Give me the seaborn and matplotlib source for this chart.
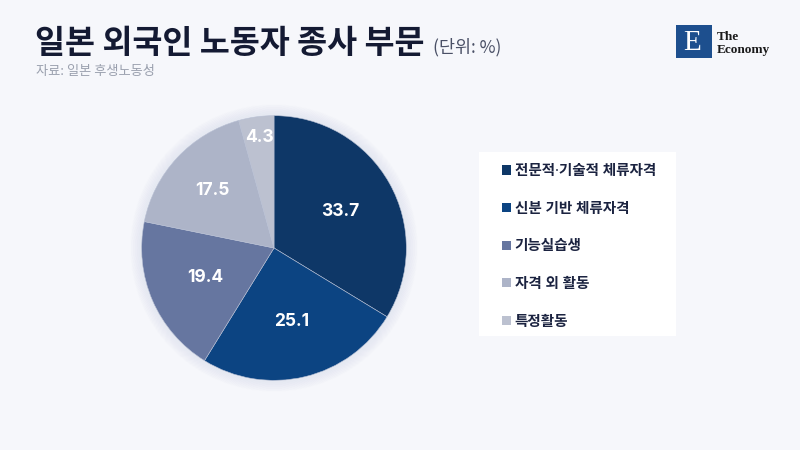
import matplotlib
matplotlib.use('Agg')
import matplotlib.pyplot as plt
import seaborn as sns
from matplotlib.patches import Patch, Rectangle, Circle

# data
labels = ['전문적·기술적 체류자격', '신분 기반 체류자격', '기능실습생', '자격 외 활동', '특정활동']
values = [33.7, 25.1, 19.4, 17.5, 4.3]
colors = ['#0e3767', '#0c4482', '#6676a0', '#adb4c8', '#bcc1d0']

sns.set_theme(style='white')
plt.rcParams['font.family'] = ['Noto Sans CJK KR', 'DejaVu Sans']

bg = '#f6f7fb'
fig = plt.figure(figsize=(8, 4.5), dpi=100, facecolor=bg)

# title block
fig.text(35 / 800, 1 - 53 / 450, '일본 외국인 노동자 종사 부문', fontsize=23.5, fontweight='bold',
         color='#141a33', ha='left', va='baseline')
fig.text(433 / 800, 1 - 52 / 450, '(단위: %)', fontsize=12.5, color='#4a5066', ha='left', va='baseline')
fig.text(36 / 800, 1 - 75 / 450, '자료: 일본 후생노동성', fontsize=9.5, color='#9aa0ae', ha='left', va='baseline')

# logo
logo = fig.add_axes([676 / 800, 1 - 58 / 450, 36 / 800, 33 / 450])
logo.set_facecolor('#1d4f8e')
logo.set_xticks([]); logo.set_yticks([])
for s in logo.spines.values():
    s.set_visible(False)
logo.text(0.45, 0.46, 'E', color='white', fontsize=21, family='Liberation Serif',
          ha='center', va='center', transform=logo.transAxes)
fig.text(717 / 800, 1 - 40 / 450, 'The', fontsize=9.5, family='Liberation Serif', fontweight='bold',
         color='#1a1a1a', va='baseline')
fig.text(717 / 800, 1 - 53 / 450, 'Economy', fontsize=9.5, family='Liberation Serif', fontweight='bold',
         color='#1a1a1a', va='baseline')

# pie
ax = fig.add_axes([139 / 800, (450 - 248 - 135) / 450, 270 / 800, 270 / 450])
ax.set_facecolor('none')
for k in range(8):
    ax.add_patch(Circle((0, 0), 1.0 + 0.01 * (k + 1), color='#c8cde0', alpha=0.03, zorder=0,
                        clip_on=False))
wedges, texts, autotexts = ax.pie(values, colors=colors, startangle=90, counterclock=False,
                                  autopct='%.1f', pctdistance=0.57,
                                  wedgeprops=dict(linewidth=0.4, edgecolor='#b8c0d4'),
                                  textprops=dict(color='white', fontsize=12.5, fontweight='bold',
                                                 family='Inter'))
# small slice label sits further out
x4, y4 = autotexts[-1].get_position()
autotexts[-1].set_position((x4 / 0.57 * 0.84, y4 / 0.57 * 0.84))
x3, y3 = autotexts[3].get_position()
autotexts[3].set_position((x3 / 0.57 * 0.64, y3 / 0.57 * 0.64))
ax.set_xlim(-1.02, 1.02)
ax.set_ylim(-1.02, 1.02)
ax.set_aspect('equal')

# legend box
fig.patches.append(Rectangle((479 / 800, 1 - 336 / 450), 197 / 800, 184 / 450,
                             transform=fig.transFigure, facecolor='white', edgecolor='none', zorder=0))
handles = [Patch(facecolor=c, edgecolor='none') for c in colors]
leg = fig.legend(handles, labels, loc='upper left', bbox_to_anchor=(489 / 800, 1 - 151 / 450),
                 frameon=False, handlelength=0.6, handleheight=0.6, handletextpad=0.25,
                 labelspacing=1.55, fontsize=10.5)
for t in leg.get_texts():
    t.set_fontweight('bold')
    t.set_color('#1b2340')
    t.set_family(['Noto Sans', 'Noto Sans CJK KR'])

fig.savefig('out.png', dpi=100, facecolor=bg)
